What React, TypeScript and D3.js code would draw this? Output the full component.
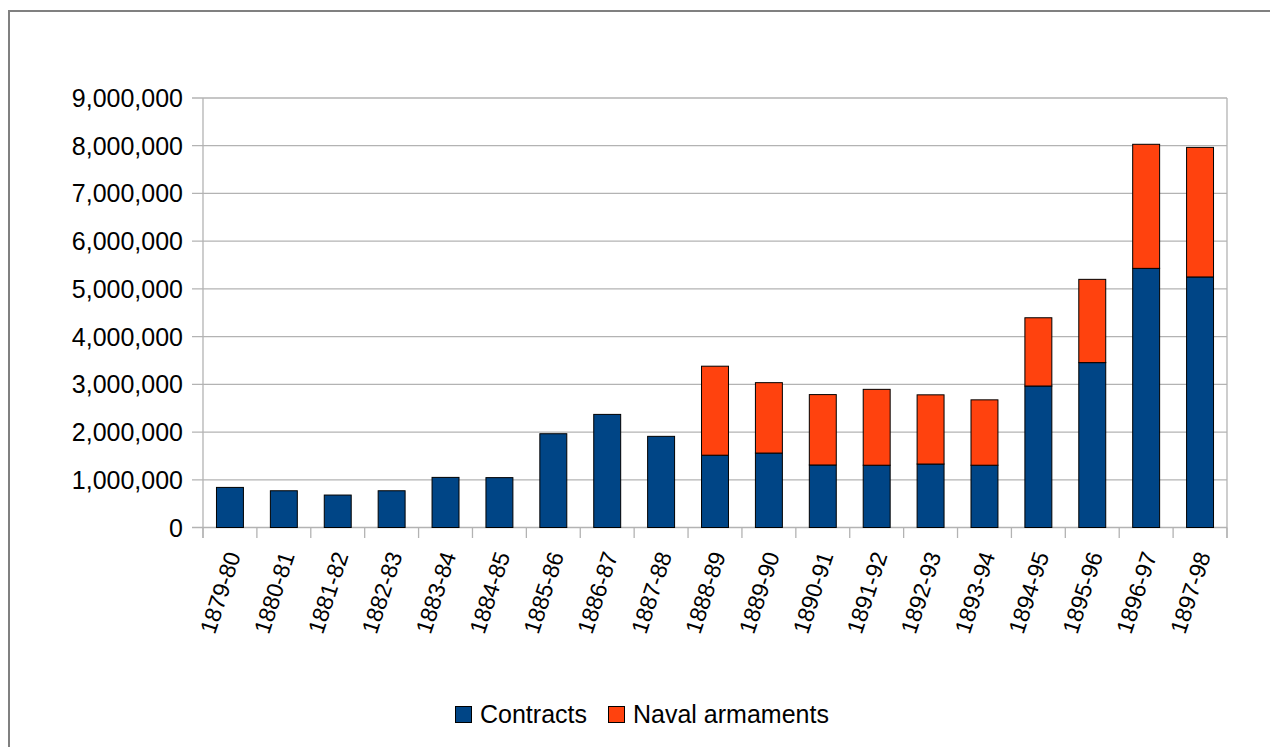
import React from "react";
import * as d3 from "d3";

const categories = [
  "1879-80", "1880-81", "1881-82", "1882-83", "1883-84", "1884-85", "1885-86",
  "1886-87", "1887-88", "1888-89", "1889-90", "1890-91", "1891-92", "1892-93",
  "1893-94", "1894-95", "1895-96", "1896-97", "1897-98",
];
const contracts = [
  840000, 770000, 680000, 770000, 1050000, 1045000, 1965000,
  2370000, 1910000, 1515000, 1560000, 1310000, 1305000, 1330000,
  1305000, 2965000, 3455000, 5430000, 5250000,
];
const naval = [
  0, 0, 0, 0, 0, 0, 0,
  0, 0, 1865000, 1475000, 1475000, 1590000, 1450000,
  1370000, 1430000, 1745000, 2600000, 2715000,
];
const yTicks = [0, 1000000, 2000000, 3000000, 4000000, 5000000, 6000000, 7000000, 8000000, 9000000];
const seriesNames = ["Contracts", "Naval armaments"];
const colors = ["#004586", "#ff420e"];

export default function App() {
  const W = 1270, H = 747;
  const left = 203, right = 1227, top = 98, bottom = 527.5;
  const x = d3.scaleBand<string>().domain(categories).range([left, right]).paddingInner(0.5).paddingOuter(0.25);
  const y = d3.scaleLinear().domain([0, 9000000]).range([bottom, top]);
  const step = x.step();
  const fmt = d3.format(",");
  const font = "'Liberation Sans', Arial, sans-serif";
  const grid = "#b3b3b3";

  const boundaries = d3.range(categories.length + 1).map((i) => left + i * step);

  return (
    <svg width={W} height={H} style={{ position: "absolute", left: 0, top: 0 }} fontFamily={font}>
      <rect x={0} y={0} width={W} height={H} fill="#fff" />
      <rect x={9} y={11} width={W + 20} height={H + 20} fill="none" stroke="#808080" strokeWidth={2} />
      {yTicks.map((t) => (
        <g key={t}>
          <line x1={192} x2={right} y1={y(t)} y2={y(t)} stroke={grid} strokeWidth={1.3} />
          <text x={183} y={y(t)} dy="0.36em" textAnchor="end" fontSize={25} fill="#000">{fmt(t)}</text>
        </g>
      ))}
      <line x1={left} x2={left} y1={top} y2={538} stroke={grid} strokeWidth={1.3} />
      <line x1={right} x2={right} y1={top} y2={538} stroke={grid} strokeWidth={1.3} />
      {boundaries.map((b, i) => (
        <line key={i} x1={b} x2={b} y1={bottom} y2={538} stroke={grid} strokeWidth={1.3} />
      ))}
      {categories.map((c, i) => {
        const bx = x(c)!;
        const bw = x.bandwidth();
        const v0 = contracts[i];
        const v1 = naval[i];
        return (
          <g key={c}>
            <rect x={bx} y={y(v0)} width={bw} height={y(0) - y(v0)} fill={colors[0]} stroke="#000" strokeWidth={1} />
            {v1 > 0 && (
              <rect x={bx} y={y(v0 + v1)} width={bw} height={y(v0) - y(v0 + v1)} fill={colors[1]} stroke="#000" strokeWidth={1} />
            )}
          </g>
        );
      })}
      {categories.map((c) => {
        const cx = x(c)! + x.bandwidth() / 2 + 11;
        const cy = 555;
        return (
          <text key={c} x={cx} y={cy} transform={`rotate(-72 ${cx} ${cy})`} textAnchor="end" fontSize={23} fill="#000">{c}</text>
        );
      })}
      <g>
        <rect x={455.5} y={706.5} width={16} height={16} fill={colors[0]} stroke="#000" strokeWidth={1} />
        <text x={480} y={723} fontSize={25} fill="#000">{seriesNames[0]}</text>
        <rect x={608.5} y={706.5} width={16} height={16} fill={colors[1]} stroke="#000" strokeWidth={1} />
        <text x={633} y={723} fontSize={25} fill="#000">{seriesNames[1]}</text>
      </g>
    </svg>
  );
}
